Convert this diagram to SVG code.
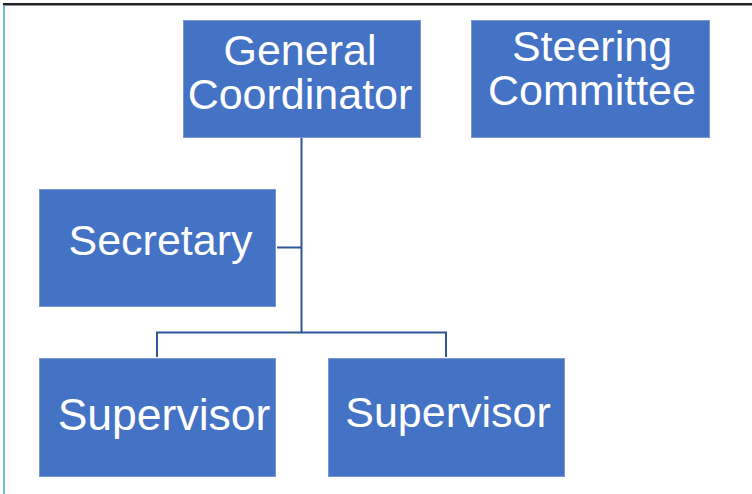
<svg xmlns="http://www.w3.org/2000/svg" width="752" height="494" viewBox="0 0 752 494">
  <style>
    .box { fill: #4472C4; stroke: #7A97D4; stroke-width: 1; }
    .lbl { fill: #FFFFFF; font-family: "Liberation Sans", Arial, sans-serif; font-size: 43px; text-anchor: middle; }
    .link { fill: none; stroke: #2F5597; stroke-width: 2; }
  </style>
  <rect x="0" y="0" width="752" height="494" fill="#FFFFFF"/>
  <!-- frame -->
  <line x1="3" y1="4.3" x2="752" y2="4.3" stroke="#222222" stroke-width="2.6"/>
  <line x1="4" y1="5.5" x2="4" y2="494" stroke="#6CC0D0" stroke-width="2"/>

  <g id="connectors">
    <path class="link" d="M301.5 138 V332.5"/>
    <path class="link" d="M277 247.5 H301.5"/>
    <path class="link" d="M157 357 V332.5 H446 V357"/>
  </g>

  <g id="general-coordinator">
    <rect class="box" x="183.5" y="20.5" width="237" height="117"/>
    <text class="lbl" x="300" y="65">General</text>
    <text class="lbl" x="300" y="109">Coordinator</text>
  </g>

  <g id="steering-committee">
    <rect class="box" x="471.5" y="20.5" width="238" height="117"/>
    <text class="lbl" x="592" y="61">Steering</text>
    <text class="lbl" x="592" y="105">Committee</text>
  </g>

  <g id="secretary">
    <rect class="box" x="39.5" y="189.5" width="236" height="117"/>
    <text class="lbl" x="160.5" y="255">Secretary</text>
  </g>

  <g id="supervisor-1">
    <rect class="box" x="39.5" y="358.5" width="236" height="118"/>
    <text class="lbl" x="164" y="430" style="font-size:44.5px">Supervisor</text>
  </g>

  <g id="supervisor-2">
    <rect class="box" x="328.5" y="358.5" width="236" height="118"/>
    <text class="lbl" x="448" y="427">Supervisor</text>
  </g>
</svg>
